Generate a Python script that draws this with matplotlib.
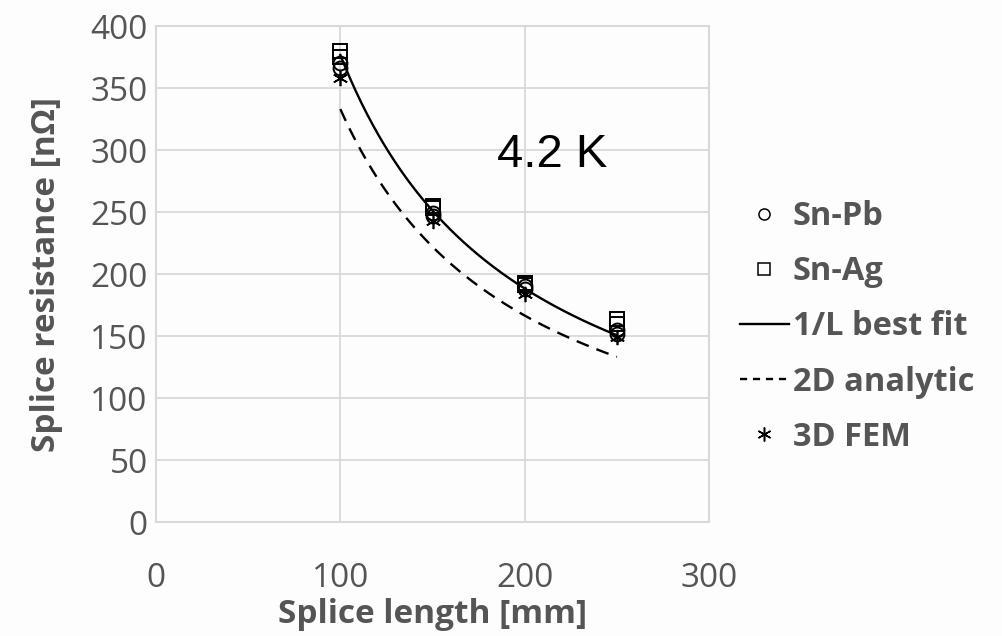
import numpy as np
import matplotlib
matplotlib.use("Agg")
import matplotlib.pyplot as plt
from matplotlib.lines import Line2D

# Measured splice resistance at 4.2 K (two samples per solder and length)
splice_length_mm = [100, 150, 200, 250]
sn_pb_sample1 = [370, 249, 190, 155]
sn_pb_sample2 = [366, 247, 188, 152]
sn_ag_sample1 = [380, 255, 193, 164]
sn_ag_sample2 = [375, 253, 191, 160]
fem_3d = [358, 243, 184, 149]

# 2D analytic model: R = K / L  (nOhm * mm)
analytic_2d_coeff = 33300

x_ticks = [0, 100, 200, 300]
y_ticks = [0, 50, 100, 150, 200, 250, 300, 350, 400]

TEXT_GREY = "#555555"
GRID_GREY = "#d9d9d9"
FONT = ["Open Sans", "DejaVu Sans"]

plt.rcParams["font.family"] = FONT

fig = plt.figure(figsize=(10.02, 6.36), dpi=100, facecolor="#fdfdfd")
ax = fig.add_axes([0.1557, 0.1792, 0.5519, 0.7799])
ax.set_facecolor("#fdfdfd")

L = np.array(splice_length_mm, dtype=float)

# Least-squares 1/L fit through all measured samples
meas_L = np.concatenate([L, L, L, L])
meas_R = np.concatenate([sn_pb_sample1, sn_pb_sample2, sn_ag_sample1, sn_ag_sample2]).astype(float)
fit_coeff = np.sum(meas_R / meas_L) / np.sum(1.0 / meas_L**2)

L_curve = np.linspace(L.min(), L.max(), 200)
ax.plot(L_curve, fit_coeff / L_curve, color="black", lw=1.7, zorder=3)
ax.plot(L_curve, analytic_2d_coeff / L_curve, color="black", lw=1.7,
        dashes=(5.5, 3.5), zorder=3)

mk = dict(linestyle="none", markerfacecolor="none", markeredgecolor="black",
          markeredgewidth=1.4, zorder=4)
ax.plot(L, sn_ag_sample1, marker="s", markersize=10, **mk)
ax.plot(L, sn_ag_sample2, marker="s", markersize=10, **mk)
ax.plot(L, sn_pb_sample1, marker="o", markersize=10, **mk)
ax.plot(L, sn_pb_sample2, marker="o", markersize=10, **mk)
ax.plot(L, fem_3d, linestyle="none", marker=(6, 2, 0), markersize=11,
        markeredgecolor="black", markeredgewidth=1.2, zorder=5)

ax.set_xlim(0, 300)
ax.set_ylim(0, 400)
ax.set_xticks(x_ticks)
ax.set_yticks(y_ticks)
ax.grid(True, color=GRID_GREY, lw=1.3)
ax.set_axisbelow(True)
for s in ax.spines.values():
    s.set_color(GRID_GREY)
    s.set_linewidth(1.5)
ax.tick_params(length=0, labelsize=24, labelcolor=TEXT_GREY)
ax.tick_params(axis="x", pad=29)
ax.tick_params(axis="y", pad=6)

ax.set_xlabel("Splice length [mm]", fontsize=24, fontweight="bold",
              color=TEXT_GREY, labelpad=2)
ax.set_ylabel("Splice resistance [nΩ]", fontsize=24, fontweight="bold",
              color=TEXT_GREY, labelpad=20)

ax.text(0.716, 0.74, "4.2 K", transform=ax.transAxes, fontsize=34,
        family=["Liberation Sans", "DejaVu Sans"], color="black",
        ha="center", va="center")

handles = [
    Line2D([], [], linestyle="none", marker="o", markersize=8,
           markerfacecolor="none", markeredgecolor="black", markeredgewidth=1.1),
    Line2D([], [], linestyle="none", marker="s", markersize=8,
           markerfacecolor="none", markeredgecolor="black", markeredgewidth=1.1),
    Line2D([], [], color="black", lw=1.7),
    Line2D([], [], color="black", lw=1.7, dashes=(3, 2.5)),
    Line2D([], [], linestyle="none", marker=(6, 2, 0), markersize=10,
           markeredgecolor="black", markeredgewidth=1.1),
]
labels = ["Sn-Pb", "Sn-Ag", "1/L best fit", "2D analytic", "3D FEM"]
leg = fig.legend(handles, labels, loc="upper left",
                 bbox_to_anchor=(740 / 1002, 1 - 200 / 636),
                 frameon=False, fontsize=23.5, handlelength=1.5,
                 handletextpad=0.12, labelspacing=0.68, borderaxespad=0,
                 borderpad=0)
for t in leg.get_texts():
    t.set_fontweight("bold")
    t.set_color(TEXT_GREY)

fig.savefig("out.png", dpi=100, facecolor=fig.get_facecolor())
